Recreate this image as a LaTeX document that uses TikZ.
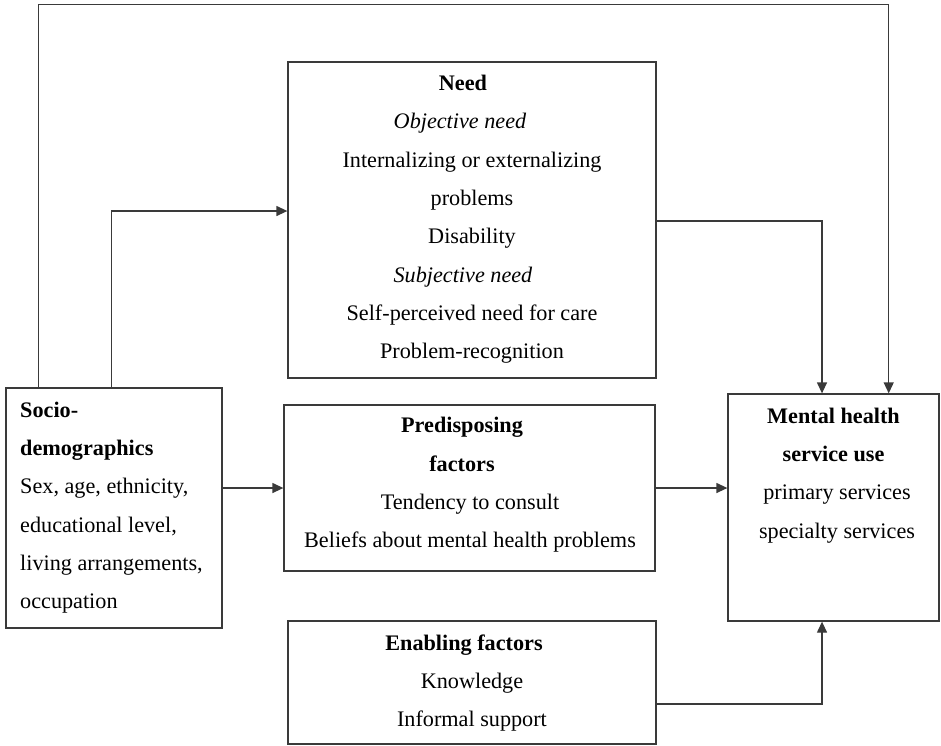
\documentclass[tikz,border=0pt]{standalone}
\usepackage{fontspec}
\setmainfont{Liberation Serif}
\usetikzlibrary{arrows.meta}
\definecolor{ln}{HTML}{3A3A3A}
\begin{document}
\begin{tikzpicture}[x=1pt,y=-1pt,
  box/.style={draw=ln,line width=1.3pt,rectangle,inner sep=0pt,anchor=center},
  txt/.style={inner sep=0pt,align=center,font=\fontsize{22.2pt}{38.3pt}\selectfont},
  arr/.style={draw=ln,line width=1.3pt,-{Triangle[length=11pt,width=10pt]}}]
\useasboundingbox (0,0) rectangle (941,745);
% boxes
\node[box,minimum width=368pt,minimum height=316pt] (need) at (472,220) {};
\node[box,minimum width=371pt,minimum height=166pt] (pre) at (469.5,488) {};
\node[box,minimum width=368pt,minimum height=123pt] (ena) at (472,682.5) {};
\node[box,minimum width=216pt,minimum height=240pt] (soc) at (114,508) {};
\node[box,minimum width=211pt,minimum height=227pt] (mhs) at (833.5,507.5) {};
% texts
\node[txt] (needT) at (472,219.3) {\textbf{Need}\kern18pt\\ \textit{Objective need}\kern24pt\\ Internalizing or externalizing\\ problems\\ Disability\\ \textit{Subjective need}\kern18pt\\ Self-perceived need for care\\ Problem-recognition};
\node[txt] (preT) at (470,485) {\textbf{Predisposing}\kern16pt\\ \textbf{factors}\kern16pt\\ Tendency to consult\\ Beliefs about mental health problems};
\node[txt] (enaT) at (472,683) {\textbf{Enabling factors}\kern16pt\\ Knowledge\\ Informal support};
\node[txt,align=left,anchor=west] (socT) at (20,507.5) {\textbf{Socio-}\\ \textbf{demographics}\\ Sex, age, ethnicity,\\ educational level,\\ living arrangements,\\ occupation};
\node[txt] (mhsT) at (837,475.5) {\textbf{Mental health}\kern7pt\\ \textbf{service use}\kern7pt\\ primary services\\ specialty services};
% connector bends
\coordinate (t1) at (38.7,4.7);
\coordinate (t2) at (888.7,4.7);
\coordinate (n1) at (111.7,211);
\coordinate (n2) at (822,221);
\coordinate (m1) at (0,488);
\coordinate (e1) at (822,704);
% connectors
\draw[arr] (soc.north -| t1) -- (t1) -- (t2) -- (mhs.north -| t2);
\draw[arr] (soc.north -| n1) -- (n1) -- (need.west |- n1);
\draw[arr] (need.east |- n2) -| (mhs.north -| n2);
\draw[arr] (soc.east |- m1) -- (pre.west |- m1);
\draw[arr] (pre.east |- m1) -- (mhs.west |- m1);
\draw[arr] (ena.east |- e1) -| (mhs.south -| e1);
\end{tikzpicture}
\end{document}
